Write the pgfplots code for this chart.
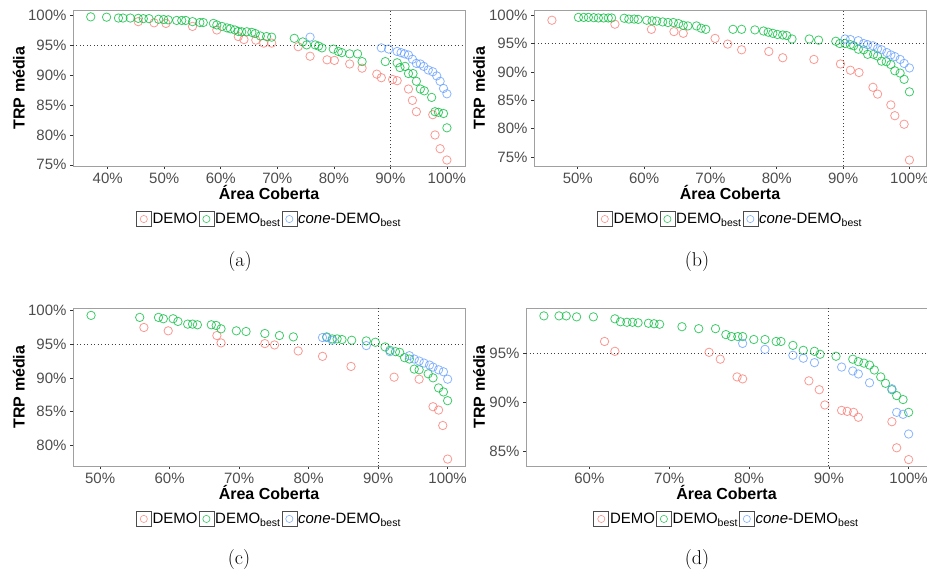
\documentclass[border=0pt]{standalone}
\usepackage{fontspec}
\usepackage{pgfplots}
\pgfplotsset{compat=1.18}
\newfontfamily\arial{Liberation Sans}
\definecolor{cR}{HTML}{F8766D}
\definecolor{cG}{HTML}{00BA38}
\definecolor{cB}{HTML}{619CFF}
\definecolor{frameC}{HTML}{A0A0A0}
\definecolor{tickC}{HTML}{333333}
\definecolor{labC}{HTML}{4D4D4D}
\newcommand\tickfont{\arial\fontsize{15}{18}\selectfont}
\newcommand\labfont{\arial\bfseries\fontsize{16}{19}\selectfont}
\newcommand\legfont{\arial\fontsize{15}{18}\selectfont}
\pgfplotsset{
  panel/.style={
    scale only axis, anchor=south west, enlargelimits=false,
    axis line style={draw=frameC, line width=0.8pt},
    tick align=outside, tick pos=left, major tick length=3pt,
    tick style={draw=tickC, line width=0.6pt},
    ticklabel style={font=\tickfont, text=labC},
    xlabel={Área Coberta}, ylabel={TRP média},
    legend columns=3,
    legend style={draw=none, fill=none, inner sep=0pt, outer sep=0pt,
      font=\legfont, anchor=center,
      nodes={inner sep=1pt},
      /tikz/every even column/.append style={column sep=0pt}},
  },
  ylab/.style={every axis y label/.style={at={(axis description cs:#1,0.5)}, rotate=90, anchor=center, font=\labfont, text=black}},
  xlab/.style={every axis x label/.style={at={(axis description cs:0.5,#1)}, anchor=center, font=\labfont, text=black}},
  pts/.style={only marks, mark=o, mark size=4.2pt,
    mark options={draw=#1, line width=0.8pt, opacity=0.75},
    legend image code/.code={
      \draw[draw=black!70, fill=white, line width=0.6pt] (0pt,-7.5pt) rectangle (15pt,7.5pt);
      \draw[draw=#1, line width=0.6pt, opacity=0.8] (7.5pt,0pt) circle (3.6pt);
    }},
  refl/.style={black!75, line width=0.7pt, dash pattern=on 1pt off 2.5pt, forget plot},
}
\begin{document}
\begin{tikzpicture}
\useasboundingbox (0pt,0pt) rectangle (927pt,574pt);
% ---------------- (a)
\begin{axis}[panel, at={(73pt,408pt)}, width=392pt, height=156pt,
  xmin=33.86, xmax=103.2, ymin=74.8, ymax=100.95,
  xtick={40,50,60,70,80,90,100}, xticklabels={40\%,50\%,60\%,70\%,80\%,90\%,100\%},
  ytick={75,80,85,90,95,100}, yticklabels={75\%,80\%,85\%,90\%,95\%,100\%},
  ylab=-0.138, xlab=-0.173,
  legend style={at={(0.5,-0.34)}}]
\addplot[refl] coordinates {(33.86,95) (103.2,95)};
\addplot[refl] coordinates {(90,74.8) (90,100.95)};
\addplot[pts=cR] coordinates {(45.4,99.0)(48.2,98.8)(50.3,98.7)(55.0,98.2)(59.3,97.6)(63.1,96.5)(64.1,96.0)(66.2,95.9)(67.6,95.4)(69.0,95.4)(73.7,94.8)(75.8,93.2)(78.8,92.6)(80.1,92.5)(82.8,91.9)(85.0,91.2)(87.6,90.2)(88.4,89.6)(90.4,89.3)(91.2,89.1)(93.2,87.7)(93.9,85.8)(94.6,83.9)(97.5,83.4)(97.9,80.0)(98.8,77.7)(100,75.8)};
\addlegendentry{DEMO}
\addplot[pts=cG] coordinates {(37.0,99.8)(39.8,99.75)(41.9,99.6)(42.7,99.6)(44.0,99.6)(45.4,99.55)(46.3,99.5)(47.3,99.5)(49.0,99.4)(49.9,99.35)(50.7,99.3)(52.2,99.2)(53.1,99.2)(53.8,99.2)(55.0,99.0)(56.3,98.85)(56.9,98.85)(58.7,98.7)(59.3,98.45)(60.2,98.2)(61.1,97.95)(61.7,97.8)(62.5,97.6)(63.1,97.35)(63.7,97.3)(64.6,97.3)(65.5,97.2)(66.1,97.0)(67.0,96.6)(68.1,96.5)(69.0,96.4)(73.0,96.2)(74.5,95.6)(75.2,95.1)(76.7,95.1)(77.3,94.9)(77.9,94.6)(79.9,94.4)(80.8,94.0)(81.4,93.8)(82.8,93.6)(84.2,93.6)(85.0,92.3)(89.1,92.3)(91.2,92.1)(91.7,91.3)(92.6,91.5)(93.2,90.3)(94.0,90.3)(94.6,89.0)(95.3,87.7)(96.0,87.4)(97.3,86.3)(97.9,83.9)(98.5,83.8)(99.4,83.6)(100,81.2)};
\addlegendentry{DEMO\textsubscript{best}}
\addplot[pts=cB] coordinates {(75.8,96.4)(88.4,94.6)(89.7,94.4)(91.2,94.0)(91.9,93.8)(92.5,93.6)(93.2,93.4)(93.9,92.7)(94.6,92.0)(95.3,91.9)(95.9,91.5)(96.7,90.9)(97.5,90.6)(98.2,89.9)(98.8,89.0)(99.4,87.8)(100,86.9)};
\addlegendentry{\textit{cone}-DEMO\textsubscript{best}}
\end{axis}
% ---------------- (b)
\begin{axis}[panel, at={(534pt,408pt)}, width=392pt, height=156pt,
  xmin=43.4, xmax=102.5, ymin=73.45, ymax=100.9,
  xtick={50,60,70,80,90,100}, xticklabels={50\%,60\%,70\%,80\%,90\%,100\%},
  ytick={75,80,85,90,95,100}, yticklabels={75\%,80\%,85\%,90\%,95\%,100\%},
  ylab=-0.140, xlab=-0.173,
  legend style={at={(0.5,-0.34)}}]
\addplot[refl] coordinates {(43.4,95) (102.5,95)};
\addplot[refl] coordinates {(90,73.45) (90,100.9)};
\addplot[pts=cR] coordinates {(46.1,99.1)(55.6,98.4)(61.1,97.5)(64.5,97.1)(65.9,96.8)(70.7,95.9)(72.6,94.9)(74.7,93.9)(78.8,93.6)(80.9,92.5)(85.6,92.2)(89.6,91.4)(91.1,90.3)(92.4,89.9)(94.5,87.3)(95.2,86.1)(97.2,84.2)(97.8,82.3)(99.2,80.8)(100,74.5)};
\addlegendentry{DEMO}
\addplot[pts=cG] coordinates {(50.1,99.6)(50.9,99.6)(51.6,99.6)(52.4,99.55)(53.1,99.5)(53.9,99.5)(54.6,99.5)(55.1,99.5)(57.0,99.45)(57.7,99.3)(58.5,99.3)(59.1,99.25)(60.4,99.1)(61.2,99.0)(61.9,98.95)(62.8,98.8)(63.6,98.7)(64.4,98.7)(65.2,98.5)(65.9,98.2)(66.6,98.1)(67.9,98.1)(68.6,97.7)(69.3,97.5)(73.4,97.5)(74.7,97.5)(76.7,97.4)(78.0,97.2)(78.7,97.0)(79.4,96.8)(80.1,96.6)(80.9,96.5)(81.5,96.4)(82.3,95.8)(84.9,95.8)(86.3,95.6)(88.9,95.4)(89.5,95.0)(90.3,95.0)(91.1,94.8)(91.6,94.6)(92.3,94.0)(93.1,93.9)(93.7,93.1)(94.6,93.1)(95.2,92.8)(95.8,91.9)(96.5,91.8)(97.2,91.3)(97.8,90.2)(98.6,89.8)(99.2,88.7)(100,86.5)};
\addlegendentry{DEMO\textsubscript{best}}
\addplot[pts=cB] coordinates {(90.3,95.8)(91.1,95.7)(92.3,95.5)(93.1,95.0)(93.7,94.8)(94.5,94.6)(95.2,94.1)(95.8,93.9)(96.6,93.4)(97.2,93.0)(97.8,92.7)(98.6,92.2)(99.2,91.5)(100,90.7)};
\addlegendentry{\textit{cone}-DEMO\textsubscript{best}}
\end{axis}
% ---------------- (c)
\begin{axis}[panel, at={(73pt,108pt)}, width=392pt, height=158pt,
  xmin=46.1, xmax=102.5, ymin=76.87, ymax=100.4,
  xtick={50,60,70,80,90,100}, xticklabels={50\%,60\%,70\%,80\%,90\%,100\%},
  ytick={80,85,90,95,100}, yticklabels={80\%,85\%,90\%,95\%,100\%},
  ylab=-0.138, xlab=-0.165,
  legend style={at={(0.5,-0.335)}}]
\addplot[refl] coordinates {(46.1,95) (102.5,95)};
\addplot[refl] coordinates {(90,76.87) (90,100.4)};
\addplot[pts=cR] coordinates {(56.3,97.5)(59.8,97.0)(66.8,96.3)(67.4,95.2)(73.7,95.1)(75.1,94.9)(78.5,94.0)(82.0,93.2)(86.1,91.7)(92.3,90.1)(95.9,89.8)(97.9,85.7)(98.7,85.2)(99.3,82.9)(100,77.9)};
\addlegendentry{DEMO}
\addplot[pts=cG] coordinates {(48.7,99.3)(55.7,99.0)(58.4,99.0)(59.1,98.8)(60.5,98.8)(61.2,98.4)(62.6,98.0)(63.3,98.0)(64.0,97.9)(66.0,97.9)(66.7,97.8)(67.4,97.3)(69.6,97.0)(71.0,96.9)(73.7,96.6)(75.8,96.3)(77.8,96.1)(82.6,96.1)(83.4,95.8)(84.1,95.8)(84.8,95.7)(86.2,95.6)(88.3,95.5)(89.6,95.3)(91.0,94.6)(91.7,94.1)(92.5,93.9)(93.1,93.8)(93.8,93.0)(94.5,92.8)(95.2,91.3)(95.9,91.2)(97.2,90.6)(97.9,90.0)(98.7,88.5)(99.4,87.9)(100,86.6)};
\addlegendentry{DEMO\textsubscript{best}}
\addplot[pts=cB] coordinates {(82.0,96.0)(82.6,96.0)(83.4,95.6)(88.3,94.8)(91.7,93.9)(94.5,93.3)(95.2,92.8)(95.9,92.5)(96.6,92.2)(97.4,91.9)(97.9,91.6)(98.7,91.2)(99.4,90.9)(100,89.8)};
\addlegendentry{\textit{cone}-DEMO\textsubscript{best}}
\end{axis}
% ---------------- (d)
\begin{axis}[panel, at={(526pt,108pt)}, width=401pt, height=158pt,
  xmin=52.06, xmax=102.3, ymin=83.55, ymax=99.6,
  xtick={60,70,80,90,100}, xticklabels={60\%,70\%,80\%,90\%,100\%},
  ytick={85,90,95}, yticklabels={85\%,90\%,95\%},
  ylab=-0.117, xlab=-0.165,
  legend style={at={(0.5,-0.335)}}]
\addplot[refl] coordinates {(52.06,95) (102.3,95)};
\addplot[refl] coordinates {(90,83.55) (90,99.6)};
\addplot[pts=cR] coordinates {(61.9,96.2)(63.2,95.2)(75.0,95.1)(76.4,94.4)(78.5,92.6)(79.2,92.4)(87.5,92.2)(88.8,91.3)(89.5,89.75)(91.6,89.2)(92.3,89.1)(93.1,89.0)(93.7,88.5)(97.9,88.05)(98.5,85.4)(100,84.2)};
\addlegendentry{DEMO}
\addplot[pts=cG] coordinates {(54.3,98.8)(56.2,98.8)(57.1,98.8)(58.4,98.7)(60.5,98.7)(63.2,98.5)(63.9,98.2)(64.7,98.15)(65.4,98.15)(66.1,98.1)(67.4,98.05)(68.1,98.0)(68.8,97.95)(71.6,97.7)(73.7,97.5)(75.8,97.5)(77.1,96.9)(77.8,96.7)(78.6,96.7)(79.2,96.7)(80.6,96.4)(82.0,96.4)(83.4,96.2)(84.0,96.2)(85.5,95.8)(86.8,95.3)(88.2,95.2)(88.9,94.9)(90.9,94.7)(93.0,94.4)(93.7,94.15)(94.4,94.0)(95.1,93.8)(95.7,93.3)(96.5,92.6)(97.1,91.95)(97.9,91.3)(98.5,90.7)(99.3,90.3)(100,89.0)};
\addlegendentry{DEMO\textsubscript{best}}
\addplot[pts=cB] coordinates {(79.2,96.0)(82.0,95.4)(85.5,94.8)(86.8,94.5)(88.2,94.05)(91.6,93.6)(93.0,93.2)(93.7,92.9)(95.1,92.0)(97.9,91.4)(98.5,89.0)(99.3,88.8)(100,86.8)};
\addlegendentry{\textit{cone}-DEMO\textsubscript{best}}
\end{axis}
% subcaptions
\node[font=\fontsize{20}{24}\selectfont] at (240pt,312pt) {(a)};
\node[font=\fontsize{20}{24}\selectfont] at (697pt,312pt) {(b)};
\node[font=\fontsize{20}{24}\selectfont] at (239pt,14pt) {(c)};
\node[font=\fontsize{20}{24}\selectfont] at (697pt,14pt) {(d)};
\end{tikzpicture}
\end{document}
